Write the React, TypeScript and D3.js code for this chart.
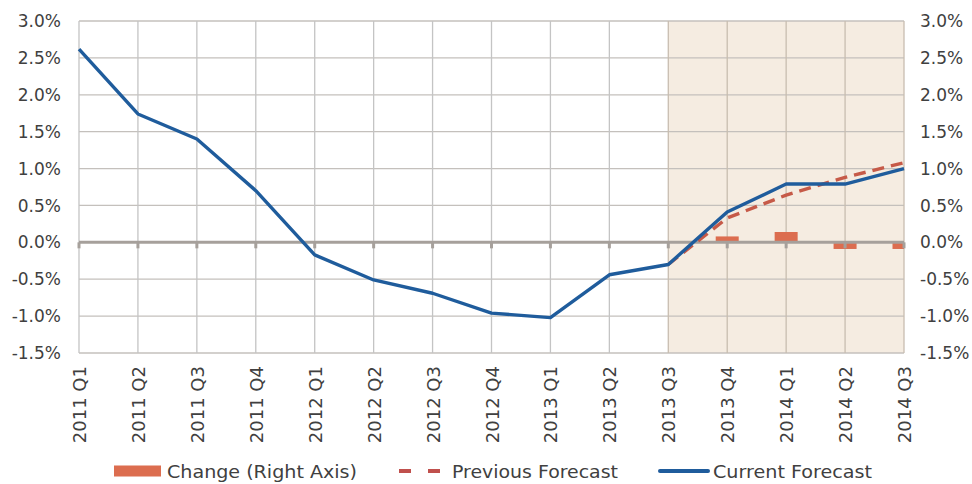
import React from "react";
import * as d3 from "d3";

const categories = [
  "2011 Q1", "2011 Q2", "2011 Q3", "2011 Q4",
  "2012 Q1", "2012 Q2", "2012 Q3", "2012 Q4",
  "2013 Q1", "2013 Q2", "2013 Q3", "2013 Q4",
  "2014 Q1", "2014 Q2", "2014 Q3",
];
const currentForecast = [2.62, 1.74, 1.4, 0.7, -0.17, -0.51, -0.69, -0.96, -1.02, -0.44, -0.3, 0.41, 0.79, 0.79, 1.0];
const previousForecast: (number | null)[] = [null, null, null, null, null, null, null, null, null, null, -0.3, 0.33, 0.64, 0.88, 1.08];
const change: (number | null)[] = [null, null, null, null, null, null, null, null, null, null, null, 0.08, 0.14, -0.09, -0.09];
const yTicks = [-1.5, -1.0, -0.5, 0.0, 0.5, 1.0, 1.5, 2.0, 2.5, 3.0];
const forecastStart = "2013 Q3";

const W = 972, H = 484;
const left = 79, right = 904, top = 21, bottom = 353;
const FONT = "'DejaVu Sans', sans-serif";
const TEXT = "#404040";

export default function App() {
  const x = d3.scalePoint<string>().domain(categories).range([left, right]);
  const y = d3.scaleLinear().domain([-1.5, 3.0]).range([bottom, top]);
  const barW = 23;
  const fmt = (v: number) => v.toFixed(1) + "%";

  const line = d3.line<number | null>()
    .defined((d) => d !== null)
    .x((_, i) => x(categories[i])!)
    .y((d) => y(d as number));

  const shadeX0 = x(forecastStart)!;
  const y0 = y(0);
  const legendY = 471;

  return (
    <svg width={W} height={H} style={{ position: "absolute", left: 0, top: 0, background: "#fff" }}>
      <defs>
        <clipPath id="plot">
          <rect x={left} y={top - 2} width={right - left} height={bottom - top + 4} />
        </clipPath>
      </defs>
      <rect x={shadeX0} y={top} width={right - shadeX0} height={bottom - top} fill="#f5ece1" />
      {/* horizontal gridlines */}
      {yTicks.map((t) => (
        <line key={"h" + t} x1={left} x2={right} y1={y(t)} y2={y(t)} stroke="#c4c0bc" strokeWidth={1.3} />
      ))}
      {/* vertical gridlines */}
      {categories.map((c) => (
        <line key={"v" + c} x1={x(c)} x2={x(c)} y1={top} y2={bottom}
          stroke={x(c)! >= shadeX0 ? "#c8bdb0" : "#c4c4c4"} strokeWidth={1.3} />
      ))}
      {/* change bars */}
      <g clipPath="url(#plot)">
        {change.map((v, i) => v === null ? null : (
          <rect key={"b" + i} x={x(categories[i])! - barW / 2} width={barW}
            y={Math.min(y(v), y0)} height={Math.abs(y(v) - y0)} fill="#dc6d4f" />
        ))}
      </g>
      {/* zero axis with ticks */}
      <line x1={left} x2={right} y1={y0} y2={y0} stroke="#a6a09b" strokeWidth={3} />
      {categories.map((c) => (
        <line key={"t" + c} x1={x(c)} x2={x(c)} y1={y0} y2={y0 + 6} stroke="#a6a09b" strokeWidth={3} />
      ))}
      {/* series lines */}
      <path d={line(previousForecast) || ""} fill="none" stroke="#c65a48" strokeWidth={3.4} strokeDasharray="12,7" />
      <path d={line(currentForecast) || ""} fill="none" stroke="#1f5c9c" strokeWidth={3.4} strokeLinejoin="round" />
      {/* left axis labels */}
      {yTicks.map((t) => (
        <text key={"l" + t} x={left - 18} y={y(t)} dy="0.36em" textAnchor="end"
          fontFamily={FONT} fontSize={17} fill={TEXT}>{fmt(t)}</text>
      ))}
      {/* right axis labels */}
      {yTicks.map((t) => (
        <text key={"r" + t} x={right + 16} y={y(t)} dy="0.36em" textAnchor="start"
          fontFamily={FONT} fontSize={17} fill={TEXT}>{fmt(t)}</text>
      ))}
      {/* category labels */}
      {categories.map((c) => (
        <text key={"c" + c} transform={`translate(${x(c)! + 7},${bottom + 13}) rotate(-90)`}
          textAnchor="end" fontFamily={FONT} fontSize={18} fill={TEXT}>{c}</text>
      ))}
      {/* legend */}
      <g fontFamily={FONT} fontSize={18.5} fill={TEXT}>
        <rect x={114} y={legendY - 5.5} width={47} height={11} fill="#dc6d4f" />
        <text x={167} y={legendY} dy="0.36em" textLength={190} lengthAdjust="spacingAndGlyphs">Change (Right Axis)</text>
        <line x1={399} x2={440} y1={legendY} y2={legendY} stroke="#c0504d" strokeWidth={4} strokeDasharray="12,17" strokeLinecap="butt" />
        <text x={452} y={legendY} dy="0.36em" textLength={166} lengthAdjust="spacingAndGlyphs">Previous Forecast</text>
        <line x1={660} x2={708} y1={legendY} y2={legendY} stroke="#1f5c9c" strokeWidth={4} strokeLinecap="round" />
        <text x={713} y={legendY} dy="0.36em" textLength={159} lengthAdjust="spacingAndGlyphs">Current Forecast</text>
      </g>
    </svg>
  );
}
